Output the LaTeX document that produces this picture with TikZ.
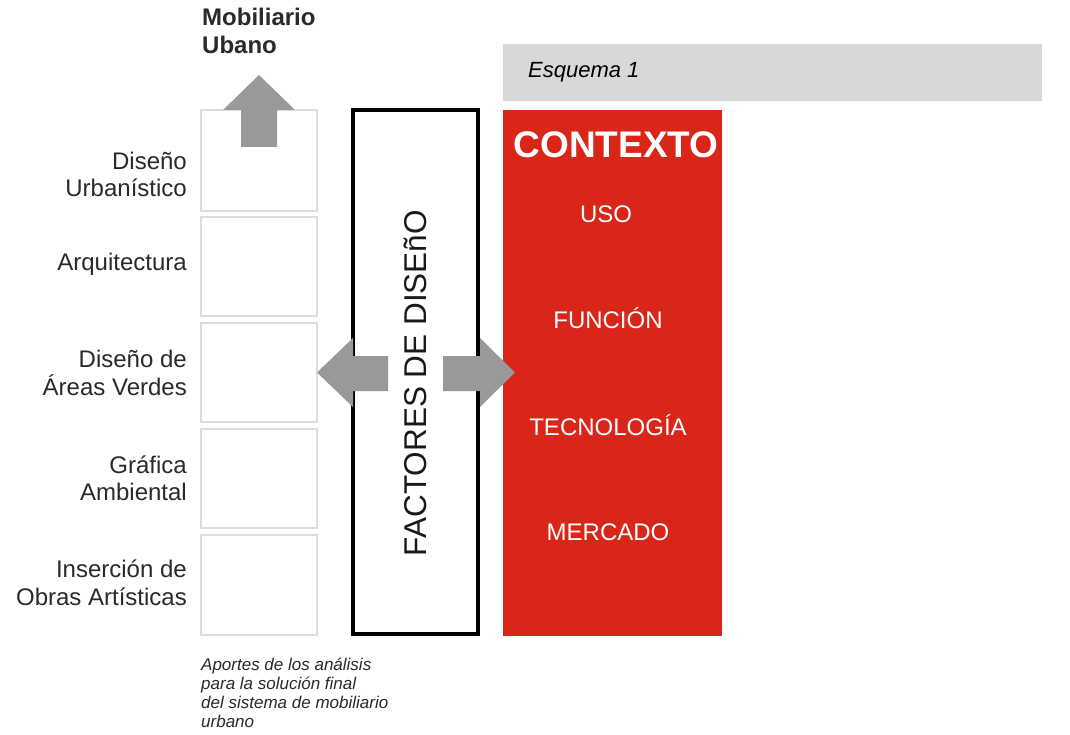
\documentclass[tikz,border=0pt]{standalone}
\usepackage{fontspec}
\setmainfont{Liberation Sans}
\definecolor{redbox}{HTML}{DA2519}
\definecolor{hdrgray}{HTML}{D8D8D8}
\definecolor{arrgray}{HTML}{999999}
\definecolor{lightedge}{HTML}{DCDCDC}
\definecolor{labtext}{HTML}{2A2A2A}
\tikzset{
  lbl/.style={inner sep=0pt, anchor=base east, text=labtext, font=\fontsize{24}{28}\selectfont},
  redlbl/.style={inner sep=0pt, anchor=base, text=white, font=\fontsize{24}{28}\selectfont},
  cellbox/.style={draw=lightedge, line width=1.2pt, fill=white},
  notetext/.style={inner sep=0pt, anchor=base west, text=labtext, font=\fontsize{17}{20}\selectfont\itshape},
  bigarrow/.style={fill=arrgray, draw=none}
}
\begin{document}
\begin{tikzpicture}[x=1pt,y=-1pt]
\useasboundingbox[fill=white] (0,0) rectangle (1070,735);
% header
\fill[hdrgray] (503,44) rectangle (1042,101);
\node[inner sep=0pt, anchor=base west, font=\fontsize{22}{26}\selectfont\itshape, text=black] (esq) at (528,78) {Esquema 1};
% left cells
\draw[cellbox] (201,110) rectangle (317,211);
\draw[cellbox] (201,217) rectangle (317,316);
\draw[cellbox] (201,323) rectangle (317,422);
\draw[cellbox] (201,429) rectangle (317,528);
\draw[cellbox] (201,535) rectangle (317,635);
% left labels
\node[lbl] (l1a) at (187,170) {Diseño};
\node[lbl] (l1b) at (187,197) {Urbanístico};
\node[lbl] (l2) at (187,270) {Arquitectura};
\node[lbl] (l3a) at (187,367) {Diseño de};
\node[lbl] (l3b) at (187,395) {Áreas Verdes};
\node[lbl] (l4a) at (187,473) {Gráfica};
\node[lbl] (l4b) at (187,500) {Ambiental};
\node[lbl] (l5a) at (187,577) {Inserción de};
\node[lbl] (l5b) at (187,605) {Obras Artísticas};
% title
\node[inner sep=0pt, anchor=base west, font=\fontsize{24}{28}\selectfont\bfseries, text=labtext] (mob1) at (202,26) {Mobiliario};
\node[inner sep=0pt, anchor=base west, font=\fontsize{24}{28}\selectfont\bfseries, text=labtext] (mob2) at (202,54) {Ubano};
% up arrow
\fill[bigarrow] (259,75) -- (295,110) -- (277,110) -- (277,147) -- (241,147) -- (241,110) -- (223,110) -- cycle;
% red context box
\fill[redbox] (503,110) rectangle (722,636);
\node[inner sep=0pt, anchor=base, text=white, font=\fontsize{37}{40}\selectfont\bfseries] (ctx) at (616,158) {CONTEXTO};
\node[redlbl] (uso) at (606,223) {USO};
\node[redlbl] (fun) at (608,328) {FUNCIÓN};
\node[redlbl] (tec) at (608,435) {TECNOLOGÍA};
\node[redlbl] (mer) at (608,540) {MERCADO};
% factors box
\draw[black, line width=4pt, fill=white] (353,110.5) rectangle (478,634);
% side arrows
\fill[bigarrow] (317,372.5) -- (353,338) -- (353,356) -- (388,356) -- (388,391) -- (353,391) -- (353,407) -- cycle;
\fill[bigarrow] (515,372.5) -- (480,338) -- (480,356) -- (443,356) -- (443,391) -- (480,391) -- (480,407) -- cycle;
\node[inner sep=0pt, anchor=base, rotate=90, text=black!90, font=\fontsize{31.5}{34}\selectfont] (fact) at (426,383) {FACTORES DE DISEñO};
% note
\node[notetext] (n1) at (201,670) {Aportes de los análisis};
\node[notetext] (n2) at (201,689) {para la solución final};
\node[notetext] (n3) at (201,708) {del sistema de mobiliario};
\node[notetext] (n4) at (201,727) {urbano};
\end{tikzpicture}
\end{document}
